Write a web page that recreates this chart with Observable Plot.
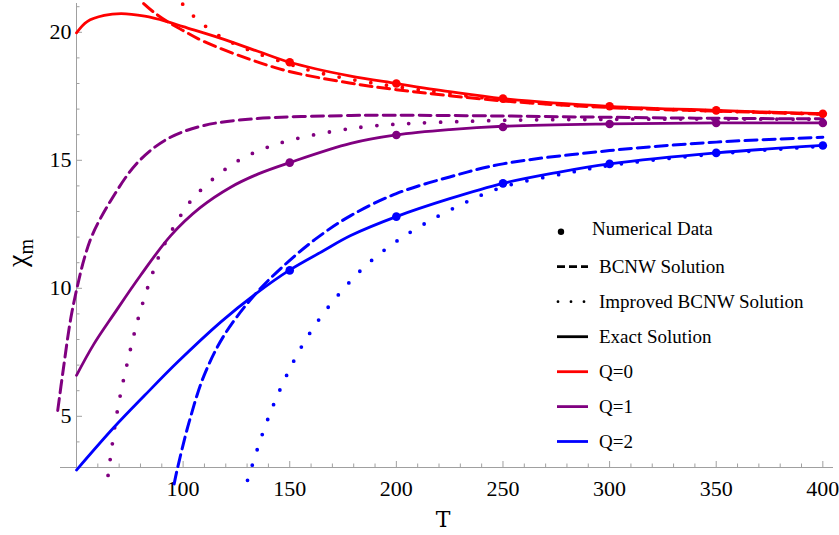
<!DOCTYPE html>
<html>
<head>
<meta charset="utf-8">
<script src="https://cdn.jsdelivr.net/npm/d3@7"></script>
<script src="https://cdn.jsdelivr.net/npm/@observablehq/plot@0.6"></script>
<style>
html, body { margin: 0; padding: 0; background: #fff; }
#wrap { position: relative; width: 839px; height: 535px; }
#wrap > svg { display: block; }
#overlay { position: absolute; left: 0; top: 0; pointer-events: none; }
</style>
</head>
<body>
<div id="wrap"></div>
<script>
// ---------------- data ----------------
const seriesLabels = ["Q=0", "Q=1", "Q=2"];

// Q = 0
const exactQ0T = [50, 55, 63, 71, 82, 92, 100, 117, 135, 150, 178, 200, 225, 250, 300, 350, 400];
const exactQ0  = [19.98, 20.42, 20.66, 20.73, 20.63, 20.43, 20.22, 19.78, 19.26, 18.83, 18.3, 18.0, 17.68, 17.41, 17.11, 16.95, 16.82];
const bcnwQ0T  = [81.5, 86, 92.4, 100, 109.5, 130, 149.3, 178, 200, 250, 300, 350, 400];
const bcnwQ0   = [21.12, 20.8, 20.43, 20.07, 19.65, 18.98, 18.48, 18.02, 17.76, 17.32, 17.06, 16.92, 16.8];
const impQ0T   = [99.8, 105.8, 118.2, 132.3, 149, 161, 177, 200, 250, 300, 350, 400];
const impQ0    = [21.1, 20.56, 19.8, 19.26, 18.78, 18.48, 18.19, 17.88, 17.36, 17.07, 16.93, 16.81];

// Q = 1
const exactQ1T = [50, 58, 67.6, 80, 94.2, 108, 122.3, 135, 150, 178.6, 200, 225, 250, 300, 350, 400];
const exactQ1  = [6.6, 7.8, 9.0, 10.5, 12.06, 13.15, 13.95, 14.46, 14.91, 15.66, 15.99, 16.2, 16.33, 16.42, 16.46, 16.46];
const bcnwQ1T  = [41.2, 43.6, 47.3, 50.5, 53.6, 57.5, 66.1, 78.6, 92.7, 109.8, 133.3, 178.7, 200, 250, 300, 350, 400];
const bcnwQ1   = [5.23, 6.71, 8.82, 10.11, 11.15, 12.1, 13.43, 14.91, 15.84, 16.36, 16.62, 16.75, 16.76, 16.73, 16.68, 16.64, 16.62];
const impQ1T   = [64.8, 69.2, 73.9, 79.4, 86.4, 89.5, 96.5, 105.1, 122.3, 135.6, 150.5, 172.4, 190, 210, 250, 300, 350, 400];
const impQ1    = [2.69, 5.23, 7.11, 8.96, 10.76, 11.41, 12.52, 13.56, 14.8, 15.38, 15.79, 16.16, 16.35, 16.45, 16.56, 16.6, 16.61, 16.6];

// Q = 2
const exactQ2T = [50, 67.6, 82, 97.3, 117.6, 134, 149.7, 165, 178.6, 200, 225, 250, 275, 300, 350, 400];
const exactQ2  = [2.9, 4.57, 5.82, 7.11, 8.68, 9.78, 10.7, 11.43, 12.06, 12.8, 13.5, 14.1, 14.52, 14.86, 15.29, 15.58];
const bcnwQ2T  = [95.8, 97.3, 102.8, 109.8, 119.2, 133.3, 147.3, 163, 178.6, 200, 225, 250, 300, 350, 400];
const bcnwQ2   = [2.36, 2.95, 4.77, 6.59, 8.16, 9.72, 10.89, 11.98, 12.84, 13.7, 14.35, 14.86, 15.38, 15.71, 15.9];
const impQ2T   = [130.2, 137.2, 142.6, 148.9, 155.9, 164.5, 173.9, 184.4, 196.1, 208.3, 228.6, 249.7, 280, 300, 350, 400];
const impQ2    = [2.5, 4.31, 5.49, 6.66, 7.77, 8.87, 9.85, 10.79, 11.6, 12.28, 13.2, 13.95, 14.5, 14.8, 15.25, 15.55];

// Numerical data
const numT  = [150, 200, 250, 300, 350, 400];
const numQ0 = [18.83, 18.0, 17.41, 17.11, 16.95, 16.82];
const numQ1 = [14.91, 15.99, 16.3, 16.42, 16.46, 16.46];
const numQ2 = [10.7, 12.8, 14.1, 14.86, 15.29, 15.58];

// Axes ticks and labels
const xMajorTicks = [100, 150, 200, 250, 300, 350, 400];
const xMinorTicks = [60, 70, 80, 90, 110, 120, 130, 140, 160, 170, 180, 190, 210, 220, 230, 240, 260, 270, 280, 290, 310, 320, 330, 340, 360, 370, 380, 390];
const yMajorTicks = [5, 10, 15, 20];
const yMinorTicks = [4, 6, 7, 8, 9, 11, 12, 13, 14, 16, 17, 18, 19, 21];
const xTitle = "T";
const yTitleMain = "χ";
const yTitleSub = "m";
const legendLabels = ["Numerical Data", "BCNW Solution", "Improved BCNW Solution", "Exact Solution", "Q=0", "Q=1", "Q=2"];

// ---------------- build ----------------
const seriesColors = ["#ff0000", "#800080", "#0000ff"];
const serif = "'Liberation Serif', 'Times New Roman', serif";
const axisColor = "#a0a0a0";

const W = 839, H = 535, mL = 76, mR = 6, mT = 3, mB = 68;
const xDom = [50, 405], yDom = [3, 21.125];
const plotW = W - mL - mR, plotH = H - mT - mB;
const kx = plotW / (xDom[1] - xDom[0]);

const rows = (T, V, q) => T.map((t, i) => ({T: t, chi: V[i], Q: q}));
const exactRows  = [...rows(exactQ0T, exactQ0, "Q=0"), ...rows(exactQ1T, exactQ1, "Q=1"), ...rows(exactQ2T, exactQ2, "Q=2")];
const bcnwRows   = [...rows(bcnwQ0T, bcnwQ0, "Q=0"), ...rows(bcnwQ1T, bcnwQ1, "Q=1"), ...rows(bcnwQ2T, bcnwQ2, "Q=2")];
const impRows    = [...rows(impQ0T, impQ0, "Q=0"), ...rows(impQ1T, impQ1, "Q=1"), ...rows(impQ2T, impQ2, "Q=2")];
const numRows    = [...rows(numT, numQ0, "Q=0"), ...rows(numT, numQ1, "Q=1"), ...rows(numT, numQ2, "Q=2")];

const chart = Plot.plot({
  width: W, height: H,
  marginLeft: mL, marginRight: mR, marginTop: mT, marginBottom: mB,
  x: {domain: xDom},
  y: {domain: yDom},
  color: {domain: seriesLabels, range: seriesColors},
  style: {fontFamily: serif, fontSize: "22px", background: "white", overflow: "visible", color: "black"},
  marks: [
    Plot.ruleY([yDom[0]], {x1: xDom[0] - 16 / kx, x2: xDom[1], stroke: axisColor, strokeWidth: 1}),
    Plot.ruleX([xDom[0]], {stroke: axisColor, strokeWidth: 1}),
    Plot.tickX(xMinorTicks, {x: d => d, insetTop: plotH - 3.5, stroke: axisColor}),
    Plot.tickX(xMajorTicks, {x: d => d, insetTop: plotH - 6, stroke: axisColor}),
    Plot.tickY(yMinorTicks, {y: d => d, insetRight: plotW - 3.5, stroke: axisColor}),
    Plot.tickY(yMajorTicks, {y: d => d, insetRight: plotW - 6, stroke: axisColor}),
    Plot.axisX({ticks: xMajorTicks, tickSize: 0, tickPadding: 13, label: null, fontSize: 22, fontFamily: serif, tickFormat: d => String(d)}),
    Plot.axisY({ticks: yMajorTicks, tickSize: 0, tickPadding: 5, label: null, fontSize: 22, fontFamily: serif, tickFormat: d => String(d)}),
    Plot.line(bcnwRows, {x: "T", y: "chi", stroke: "Q", strokeWidth: 3, strokeDasharray: "12,6", curve: "catmull-rom"}),
    Plot.line(impRows, {x: "T", y: "chi", stroke: "Q", strokeWidth: 3.8, strokeDasharray: "0,16", strokeLinecap: "round", curve: "catmull-rom"}),
    Plot.line(exactRows, {x: "T", y: "chi", stroke: "Q", strokeWidth: 2.8, curve: "catmull-rom"}),
    Plot.dot(numRows, {x: "T", y: "chi", fill: "Q", r: 4.3})
  ]
});

const wrap = document.getElementById("wrap");
wrap.appendChild(chart);

// ---------------- overlay: legend & axis titles ----------------
const ov = d3.create("svg").attr("id", "overlay").attr("width", W).attr("height", H)
  .attr("font-family", serif);

const lg = ov.append("g").attr("font-size", 19).attr("fill", "black");
const swX1 = 557, swX2 = 588;
// row 0: numerical data dot
lg.append("circle").attr("cx", 561).attr("cy", 231.7).attr("r", 3.2).attr("fill", "black");
lg.append("text").attr("x", 592).attr("y", 234.5).text(legendLabels[0]);
const rowY = [266.7, 301.7, 336.7, 371.7, 406.6, 441.5];
const rowStyle = [
  {stroke: "black", dash: "8,4", w: 2.8, cap: "butt"},
  {stroke: "black", dash: "0,13", w: 2.8, cap: "round"},
  {stroke: "black", dash: null, w: 2.8, cap: "butt"},
  {stroke: seriesColors[0], dash: null, w: 2.8, cap: "butt"},
  {stroke: seriesColors[1], dash: null, w: 2.8, cap: "butt"},
  {stroke: seriesColors[2], dash: null, w: 2.8, cap: "butt"}
];
rowY.forEach((y, i) => {
  const s = rowStyle[i];
  const ln = lg.append("line").attr("x1", s.cap === "round" ? swX1 + 1 : swX1).attr("x2", swX2).attr("y1", y).attr("y2", y)
    .attr("stroke", s.stroke).attr("stroke-width", s.w).attr("stroke-linecap", s.cap);
  if (s.dash) ln.attr("stroke-dasharray", s.dash);
  lg.append("text").attr("x", 599).attr("y", y + 6.6).text(legendLabels[i + 1]);
});

// x title
ov.append("text").attr("x", 443).attr("y", 526.5).attr("text-anchor", "middle")
  .attr("font-family", "'DejaVu Serif', serif").attr("font-size", 22).text(xTitle);
// y title (rotated)
const yt = ov.append("text").attr("transform", "translate(25.5,267) rotate(-90)").attr("text-anchor", "start");
yt.append("tspan").attr("font-size", 28).text(yTitleMain);
yt.append("tspan").attr("font-size", 20).attr("dy", 7).text(yTitleSub);

wrap.appendChild(ov.node());
</script>
</body>
</html>
